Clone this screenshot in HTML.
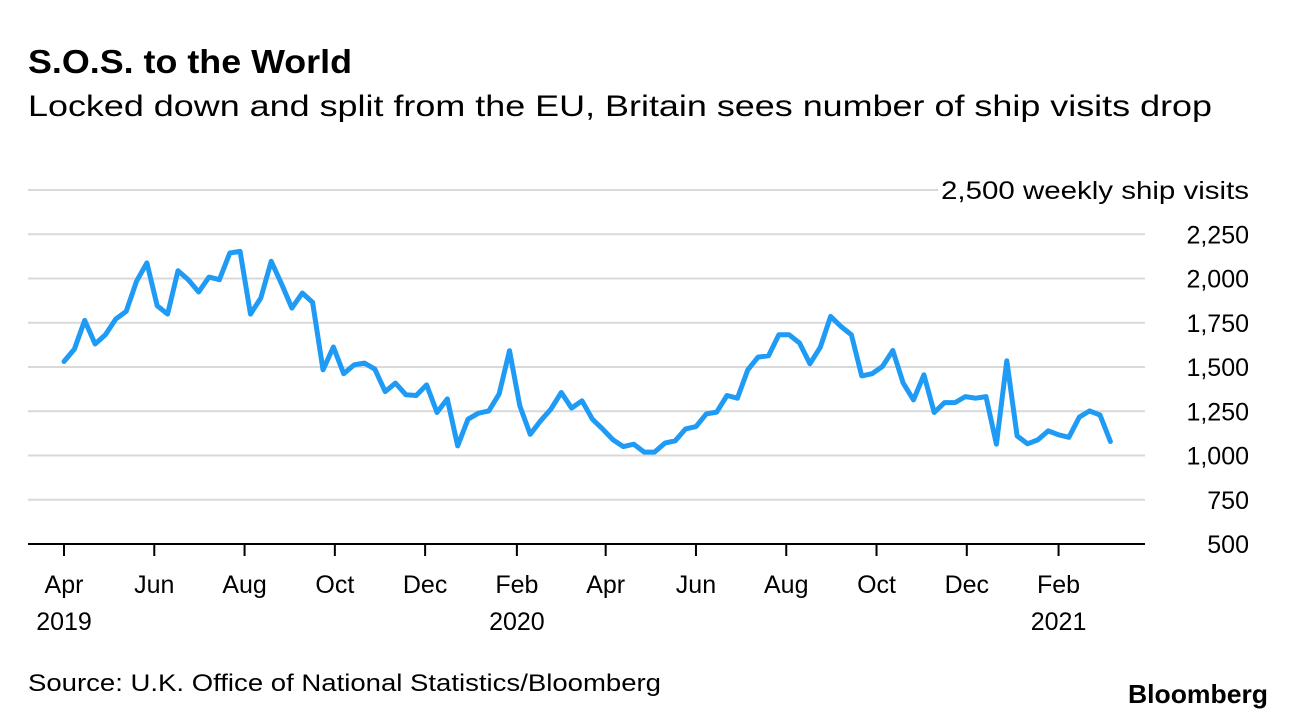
<!DOCTYPE html>
<html><head><meta charset="utf-8"><style>
body{margin:0;background:#fff;width:1296px;height:720px;overflow:hidden;font-family:"Liberation Sans",sans-serif;}
svg text{font-family:"Liberation Sans",sans-serif;}
</style></head><body>
<svg width="1296" height="720">
<text x="28" y="73" font-size="33" font-weight="bold" fill="#000" textLength="324" lengthAdjust="spacingAndGlyphs">S.O.S. to the World</text>
<text x="28" y="116" font-size="30" fill="#000" textLength="1184" lengthAdjust="spacingAndGlyphs">Locked down and split from the EU, Britain sees number of ship visits drop</text>
<g id="grid"></g>
<g id="yl"></g>
<g id="xl"></g>
<path id="line" fill="none" stroke="#1f9bf5" stroke-width="5" stroke-linejoin="round" stroke-linecap="round"/>
<text x="28" y="691" font-size="24" fill="#000" textLength="633" lengthAdjust="spacingAndGlyphs">Source: U.K. Office of National Statistics/Bloomberg</text>
<text x="1268" y="703" font-size="26" font-weight="bold" text-anchor="end" fill="#000" textLength="140" lengthAdjust="spacingAndGlyphs">Bloomberg</text>
</svg>
<script>
const values=[1531,1601,1763,1630,1682,1771,1814,1984,2088,1846,1799,2044,1993,1924,2008,1993,2144,2153,1799,1890,2097,1969,1833,1918,1865,1484,1613,1462,1512,1522,1488,1361,1409,1343,
1339,1399,1243,1320,1054,1205,1239,1252,1347,1592,1281,1120,1196,1262,1356,1268,1309,1205,1149,1088,1050,1064,1019,1019,1070,1083,1150,1163,1235,1245,1339,1324,1484,1556,
1563,1682,1682,1635,1518,1612,1786,1729,1682,1450,1462,1503,1593,1409,1314,1456,1243,1299,1299,1333,1324,1333,1064,1535,1111,1066,1088,1139,1117,1103,1217,1252,1229,1079];
const yTicks=[500,750,1000,1250,1500,1750,2000,2250,2500];
const yTickLabels=["500","750","1,000","1,250","1,500","1,750","2,000","2,250","2,500 weekly ship visits"];
const xTickDays=[0,61,122,183,244,306,366,427,488,549,610,672];
const xTickMonths=["Apr","Jun","Aug","Oct","Dec","Feb","Apr","Jun","Aug","Oct","Dec","Feb"];
const xTickYears=["2019","","","","","2020","","","","","","2021"];
const NS="http://www.w3.org/2000/svg";
function y(v){return 544-(v-500)*(354/2000);}
function x(d){return 64+d*1.48;}
const grid=document.getElementById('grid'),yl=document.getElementById('yl'),xl=document.getElementById('xl');
yTicks.forEach((t,i)=>{
  const last=i==yTicks.length-1;
  if(t>500){const l=document.createElementNS(NS,'line');
  
  
  l.setAttribute('x1',28);l.setAttribute('x2',last?938:1145);
  l.setAttribute('y1',y(t));l.setAttribute('y2',y(t));l.setAttribute('stroke','#d9d9d9');l.setAttribute('stroke-width','2');grid.appendChild(l);}
  const tx=document.createElementNS(NS,'text');
  
  
  tx.setAttribute('x',1249);tx.setAttribute('y',y(t)+9);tx.setAttribute('text-anchor','end');tx.setAttribute('font-size','25');
  if(last){tx.setAttribute('textLength','308');tx.setAttribute('lengthAdjust','spacingAndGlyphs');}
  tx.textContent=yTickLabels[i];yl.appendChild(tx);
});
const ax=document.createElementNS(NS,'line');


ax.setAttribute('x1',28);ax.setAttribute('x2',1145);ax.setAttribute('y1',544);ax.setAttribute('y2',544);ax.setAttribute('stroke','#000');ax.setAttribute('stroke-width','2');xl.appendChild(ax);
xTickDays.forEach((d,i)=>{
  const t=document.createElementNS(NS,'line');
  
  
  t.setAttribute('x1',x(d));t.setAttribute('x2',x(d));t.setAttribute('y1',544);t.setAttribute('y2',556);t.setAttribute('stroke','#000');t.setAttribute('stroke-width','2');xl.appendChild(t);
  const m=document.createElementNS(NS,'text');
  
  
  m.setAttribute('x',x(d));m.setAttribute('y',593);m.setAttribute('text-anchor','middle');m.setAttribute('font-size','25');m.textContent=xTickMonths[i];xl.appendChild(m);
  if(xTickYears[i]){const yr=document.createElementNS(NS,'text');
  
  
  yr.setAttribute('x',x(d));yr.setAttribute('y',630);yr.setAttribute('text-anchor','middle');yr.setAttribute('font-size','25');yr.textContent=xTickYears[i];xl.appendChild(yr);}
});
document.getElementById('line').setAttribute('d',values.map((v,i)=>(i?'L':'M')+x(i*7).toFixed(1)+' '+y(v).toFixed(1)).join(' '));
</script>
</body></html>
